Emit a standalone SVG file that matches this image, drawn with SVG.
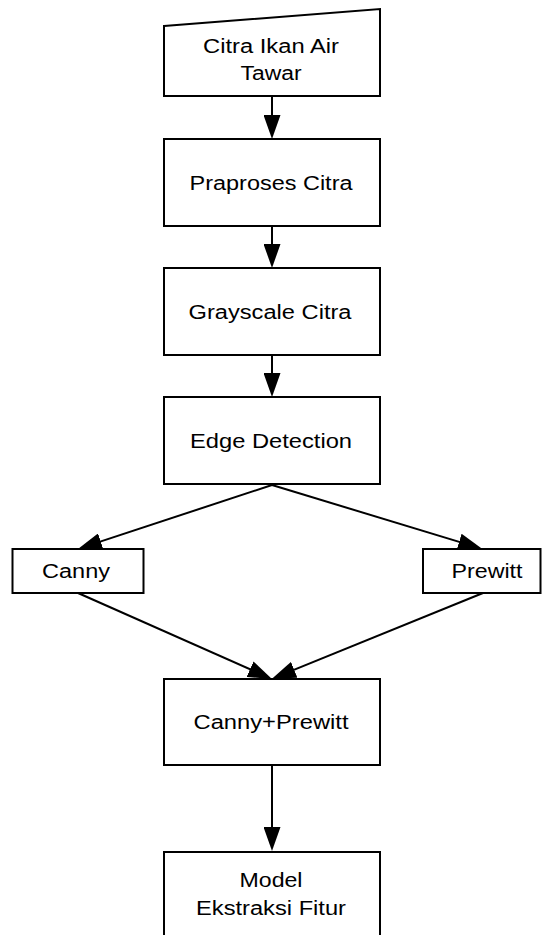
<svg xmlns="http://www.w3.org/2000/svg" width="542" height="935" viewBox="0 0 542 935">
<style>
.box{fill:#fff;stroke:#000;stroke-width:2}
.t{font-family:"Liberation Sans",Arial,Helvetica,sans-serif;font-size:20px;fill:#000;text-anchor:middle}
.c{fill:none;stroke:#000;stroke-width:2}
</style>
<defs>
<marker id="ah" markerUnits="userSpaceOnUse" viewBox="0 0 24 17" refX="19" refY="8.5" markerWidth="24" markerHeight="17" orient="auto">
<path d="M0,0 L24,8.5 L0,17 z" fill="#000"/>
</marker>
</defs>
<rect width="542" height="935" fill="#fff"/>
<g id="connectors">
<path class="c" d="M272,96 L272,134" marker-end="url(#ah)"/>
<path class="c" d="M272,226 L272,263" marker-end="url(#ah)"/>
<path class="c" d="M272,355 L272,392" marker-end="url(#ah)"/>
<path class="c" d="M272,485 L82.7,547.4" marker-end="url(#ah)"/>
<path class="c" d="M272,485 L477.3,547.4" marker-end="url(#ah)"/>
<path class="c" d="M78,593 L267.4,676.9" marker-end="url(#ah)"/>
<path class="c" d="M483,593 L276.6,676.9" marker-end="url(#ah)"/>
<path class="c" d="M272,765 L272,846" marker-end="url(#ah)"/>
</g>
<g id="input">
<polygon class="box" points="164,26 380,9 380,96 164,96"/>
<text class="t" x="271" y="53" textLength="136" lengthAdjust="spacingAndGlyphs">Citra Ikan Air</text>
<text class="t" x="271" y="80" textLength="61" lengthAdjust="spacingAndGlyphs">Tawar</text>
</g>
<g id="praproses">
<rect class="box" x="164" y="139" width="216" height="87"/>
<text class="t" x="271" y="189.5" textLength="163" lengthAdjust="spacingAndGlyphs">Praproses Citra</text>
</g>
<g id="grayscale">
<rect class="box" x="164" y="268" width="216" height="87"/>
<text class="t" x="270" y="318.5" textLength="163" lengthAdjust="spacingAndGlyphs">Grayscale Citra</text>
</g>
<g id="edge">
<rect class="box" x="164" y="397" width="216" height="87"/>
<text class="t" x="271" y="447.5" textLength="162" lengthAdjust="spacingAndGlyphs">Edge Detection</text>
</g>
<g id="canny">
<rect class="box" x="12.5" y="549" width="131" height="44"/>
<text class="t" x="76" y="578" textLength="68" lengthAdjust="spacingAndGlyphs">Canny</text>
</g>
<g id="prewitt">
<rect class="box" x="423" y="549" width="117.5" height="44"/>
<text class="t" x="487" y="578" textLength="71" lengthAdjust="spacingAndGlyphs">Prewitt</text>
</g>
<g id="cannyprewitt">
<rect class="box" x="164" y="679" width="216" height="86"/>
<text class="t" x="271" y="729" textLength="155" lengthAdjust="spacingAndGlyphs">Canny+Prewitt</text>
</g>
<g id="model">
<rect class="box" x="164" y="852" width="216" height="87"/>
<text class="t" x="271" y="887" textLength="63" lengthAdjust="spacingAndGlyphs">Model</text>
<text class="t" x="271" y="915" textLength="150" lengthAdjust="spacingAndGlyphs">Ekstraksi Fitur</text>
</g>
</svg>
